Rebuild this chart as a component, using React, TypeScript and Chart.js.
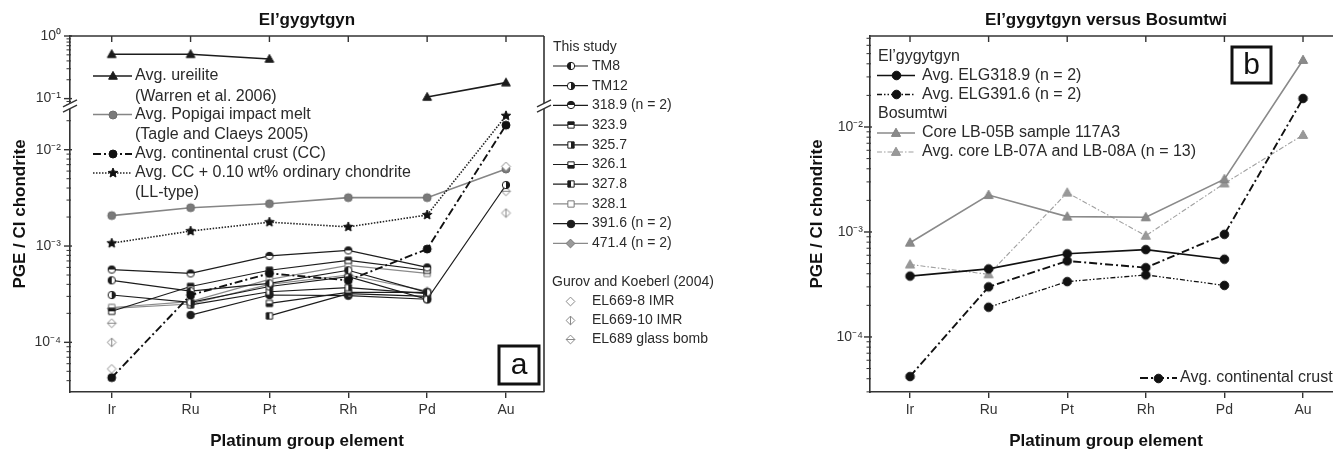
import React, { useEffect, useRef } from 'react';
import { Chart, registerables } from 'chart.js';

Chart.register(...registerables);

const FONT = '"Liberation Sans", Arial, Helvetica, sans-serif';
Chart.defaults.font.family = FONT;

// ---------------- data ----------------
const CATEGORIES = ['Ir', 'Ru', 'Pt', 'Rh', 'Pd', 'Au'];

// Panel a (El'gygytgyn)
const ureilite = [0.51, 0.51, 0.43, null, 0.106, 0.18];
const popigai = [2.07e-3, 2.5e-3, 2.75e-3, 3.18e-3, 3.18e-3, 6.3e-3];
const contCrustA = [4.3e-5, 3.1e-4, 5.2e-4, 4.4e-4, 9.3e-4, 1.8e-2];
const ccPlusLL = [1.07e-3, 1.43e-3, 1.77e-3, 1.58e-3, 2.1e-3, 2.25e-2];
const tm8 = [4.4e-4, 3.4e-4, 4.1e-4, 5.6e-4, 3.3e-4, null];
const tm12 = [3.1e-4, 2.6e-4, 3.8e-4, 4.8e-4, 2.8e-4, 4.3e-3];
const s3189 = [5.7e-4, 5.2e-4, 7.9e-4, 9.0e-4, 6.0e-4, null];
const s3239 = [2.1e-4, 3.8e-4, 5.6e-4, 7.1e-4, 5.6e-4, null];
const s3257 = [null, 2.45e-4, 3.35e-4, 3.7e-4, 3.2e-4, null];
const s3261 = [null, null, 2.54e-4, 3.3e-4, 3.3e-4, null];
const s3278 = [null, null, 1.88e-4, 3.2e-4, 3.0e-4, null];
const s3281 = [2.3e-4, 2.65e-4, 4.5e-4, 6.3e-4, 5.2e-4, null];
const s3916 = [null, 1.92e-4, 3.1e-4, 3.05e-4, 2.8e-4, null];
const s4714 = [2.25e-4, 2.5e-4, 4.0e-4, 5.0e-4, 3.4e-4, null];
const el6698 = [5.3e-5, null, null, null, null, 6.7e-3];
const el66910 = [1.0e-4, null, null, null, null, 2.2e-3];
const el689 = [1.58e-4, null, null, null, null, 3.7e-3];

// Panel b (El'gygytgyn versus Bosumtwi)
const elg3189 = [3.8e-4, 4.45e-4, 6.2e-4, 6.8e-4, 5.5e-4, null];
const elg3916 = [null, 1.92e-4, 3.37e-4, 3.9e-4, 3.1e-4, null];
const lb05b = [7.9e-4, 2.25e-3, 1.4e-3, 1.38e-3, 3.18e-3, 4.35e-2];
const lb0708 = [4.9e-4, 3.95e-4, 2.37e-3, 9.2e-4, 2.9e-3, 8.4e-3];
const contCrustB = [4.2e-5, 3.0e-4, 5.3e-4, 4.57e-4, 9.5e-4, 1.87e-2];

// axis ranges
const A_HIGH = [0.0762, 1];
const A_LOW = [3.05e-5, 0.02844];
const B_Y = [2.99e-5, 0.0736];
const A_X = [-0.529, 5.482];
const B_X = [-0.509, 5.496];

// ---------------- helpers ----------------
const AXIS = '#333';
const TXT = '#2a2a2a';

const SUP: Record<string, string> = { '-': '⁻', '0': '⁰', '1': '¹', '2': '²', '3': '³', '4': '⁴', '5': '⁵' };
const sup = (n: number) => String(n).split('').map((c) => SUP[c] || c).join('');

function logTicks(min: number, max: number) {
  const out: { value: number; major: boolean }[] = [];
  for (let e = Math.floor(Math.log10(min)); e <= Math.ceil(Math.log10(max)); e++) {
    for (let k = 1; k <= 9; k++) {
      const v = Number((k * Math.pow(10, e)).toPrecision(6));
      if (v >= min * 0.9999 && v <= max * 1.0001) out.push({ value: v, major: k === 1 });
    }
  }
  return out;
}
function logLabel(value: number) {
  const e = Math.round(Math.log10(value));
  return Math.abs(value - Math.pow(10, e)) / value < 1e-6 ? '10' + sup(e) : '';
}

type Shape = 'circle' | 'square' | 'triangle' | 'diamond' | 'star';
type Mode = 'full' | 'none' | 'left' | 'right' | 'top' | 'bottom' | 'vline' | 'hline';

function shapePath(ctx: CanvasRenderingContext2D, shape: Shape, c: number, r: number) {
  ctx.beginPath();
  if (shape === 'circle') ctx.arc(c, c, r, 0, Math.PI * 2);
  else if (shape === 'square') ctx.rect(c - r * 0.85, c - r * 0.85, r * 1.7, r * 1.7);
  else if (shape === 'triangle') {
    ctx.moveTo(c, c - r);
    ctx.lineTo(c + r * 0.95, c + r * 0.7);
    ctx.lineTo(c - r * 0.95, c + r * 0.7);
    ctx.closePath();
  } else if (shape === 'diamond') {
    ctx.moveTo(c, c - r);
    ctx.lineTo(c + r, c);
    ctx.lineTo(c, c + r);
    ctx.lineTo(c - r, c);
    ctx.closePath();
  } else {
    for (let i = 0; i < 10; i++) {
      const a = -Math.PI / 2 + (i * Math.PI) / 5;
      const rr = i % 2 ? r * 0.45 : r;
      const px = c + rr * Math.cos(a);
      const py = c + rr * Math.sin(a);
      if (i === 0) ctx.moveTo(px, py);
      else ctx.lineTo(px, py);
    }
    ctx.closePath();
  }
}

function makeMarker(shape: Shape, mode: Mode, fill: string, stroke: string, r: number) {
  const s = Math.ceil(2 * r + 4);
  const cv = document.createElement('canvas');
  cv.width = s;
  cv.height = s;
  const ctx = cv.getContext('2d')!;
  const c = s / 2;
  shapePath(ctx, shape, c, r);
  ctx.fillStyle = mode === 'full' ? fill : '#fff';
  ctx.fill();
  if (mode === 'left' || mode === 'right' || mode === 'top' || mode === 'bottom') {
    ctx.save();
    ctx.beginPath();
    if (mode === 'left') ctx.rect(0, 0, c, s);
    if (mode === 'right') ctx.rect(c, 0, s - c, s);
    if (mode === 'top') ctx.rect(0, 0, s, c);
    if (mode === 'bottom') ctx.rect(0, c, s, s - c);
    ctx.clip();
    shapePath(ctx, shape, c, r);
    ctx.fillStyle = fill;
    ctx.fill();
    ctx.restore();
  }
  ctx.strokeStyle = stroke;
  ctx.lineWidth = 1;
  if (mode === 'vline' || mode === 'hline') {
    ctx.beginPath();
    if (mode === 'vline') {
      ctx.moveTo(c, c - r);
      ctx.lineTo(c, c + r);
    } else {
      ctx.moveTo(c - r, c);
      ctx.lineTo(c + r, c);
    }
    ctx.stroke();
  }
  shapePath(ctx, shape, c, r);
  ctx.stroke();
  return cv;
}

type Sty = { color: string; width: number; dash: number[]; marker: HTMLCanvasElement; line: boolean };

function ds(label: string, values: (number | null)[], st: Sty, yAxisID: string) {
  return {
    label,
    yAxisID,
    xAxisID: 'x',
    data: values.map((v, i) => ({ x: i, y: v })),
    borderColor: st.color,
    backgroundColor: st.color,
    borderWidth: st.width,
    borderDash: st.dash,
    showLine: st.line,
    pointStyle: st.marker,
    pointRadius: 4,
    pointHoverRadius: 4,
    spanGaps: false,
    tension: 0,
    fill: false,
  };
}

function line(ctx: CanvasRenderingContext2D, x1: number, y1: number, x2: number, y2: number) {
  ctx.beginPath();
  ctx.moveTo(x1, y1);
  ctx.lineTo(x2, y2);
  ctx.stroke();
}

function text(ctx: CanvasRenderingContext2D, s: string, x: number, y: number, font: string, align: CanvasTextAlign = 'left', color = TXT) {
  ctx.font = font;
  ctx.fillStyle = color;
  ctx.textAlign = align;
  ctx.textBaseline = 'middle';
  ctx.fillText(s, x, y);
}

function legendSymbol(ctx: CanvasRenderingContext2D, st: Sty, x1: number, x2: number, y: number) {
  if (st.line) {
    ctx.save();
    ctx.strokeStyle = st.color;
    ctx.lineWidth = st.width;
    ctx.setLineDash(st.dash);
    line(ctx, x1, y, x2, y);
    ctx.restore();
  }
  const m = st.marker;
  const xc = (x1 + x2) / 2;
  ctx.drawImage(m, Math.round(xc - m.width / 2), Math.round(y - m.height / 2));
}

function drawYTicks(ctx: CanvasRenderingContext2D, scale: any, left: number) {
  ctx.save();
  ctx.strokeStyle = AXIS;
  for (const t of scale.ticks) {
    const py = scale.getPixelForValue(t.value);
    const major = logLabel(t.value) !== '';
    ctx.lineWidth = major ? 1.4 : 1;
    line(ctx, left - (major ? 6 : 3.5), py, left + (major ? 2 : 1), py);
  }
  ctx.restore();
}

function drawBreak(ctx: CanvasRenderingContext2D, cx: number, cy: number) {
  const d = 2.6;
  ctx.save();
  ctx.fillStyle = '#fff';
  ctx.beginPath();
  ctx.moveTo(cx - 7, cy + 3.5 - d);
  ctx.lineTo(cx + 7, cy - 3.5 - d);
  ctx.lineTo(cx + 7, cy - 3.5 + d);
  ctx.lineTo(cx - 7, cy + 3.5 + d);
  ctx.closePath();
  ctx.fill();
  ctx.strokeStyle = AXIS;
  ctx.lineWidth = 1.3;
  line(ctx, cx - 7, cy + 3.5 - d, cx + 7, cy - 3.5 - d);
  line(ctx, cx - 7, cy + 3.5 + d, cx + 7, cy - 3.5 + d);
  ctx.restore();
}

function frameTop(ctx: CanvasRenderingContext2D, chart: any) {
  const { left, right, top } = chart.chartArea;
  const x = chart.scales.x;
  ctx.save();
  ctx.strokeStyle = AXIS;
  ctx.lineWidth = 1.6;
  line(ctx, left, top, right, top);
  ctx.lineWidth = 1.4;
  for (let i = 0; i < CATEGORIES.length; i++) {
    const px = x.getPixelForValue(i);
    line(ctx, px, top, px, top + 6);
  }
  ctx.restore();
}

function boxLabel(ctx: CanvasRenderingContext2D, s: string, x: number, y: number, w: number, h: number) {
  ctx.save();
  ctx.fillStyle = '#fff';
  ctx.fillRect(x, y, w, h);
  ctx.strokeStyle = '#111';
  ctx.lineWidth = 3;
  ctx.strokeRect(x, y, w, h);
  ctx.restore();
  text(ctx, s, x + w / 2, y + h / 2 + 1, '30px ' + FONT, 'center', '#111');
}

function axisTitles(ctx: CanvasRenderingContext2D, chart: any, title: string, yTitleX: number) {
  const { left, right, top, bottom } = chart.chartArea;
  const cx = (left + right) / 2;
  const bold = 'bold 17px ' + FONT;
  text(ctx, title, cx, 20, bold, 'center', '#111');
  text(ctx, 'Platinum group element', cx, 441, bold, 'center', '#111');
  ctx.save();
  ctx.translate(yTitleX, (top + bottom) / 2);
  ctx.rotate(-Math.PI / 2);
  text(ctx, 'PGE / CI chondrite', 0, 0, bold, 'center', '#111');
  ctx.restore();
}

function xScale(range: number[], height: number) {
  return {
    type: 'linear',
    min: range[0],
    max: range[1],
    afterBuildTicks: (s: any) => {
      s.ticks = CATEGORIES.map((_, i) => ({ value: i }));
    },
    afterFit: (s: any) => {
      s.height = height;
    },
    ticks: {
      callback: (v: any) => CATEGORIES[v] ?? '',
      autoSkip: false,
      maxRotation: 0,
      font: { size: 14 },
      color: '#333',
      padding: 4,
    },
    grid: { display: true, drawOnChartArea: false, drawTicks: true, tickLength: 6, color: AXIS, lineWidth: 1.4 },
    border: { color: AXIS, width: 1.6 },
  };
}

function yScale(range: number[], width: number, stack?: string, weight?: number, tl = 6, pad = 3) {
  const o: any = {
    type: 'logarithmic',
    position: 'left',
    min: range[0],
    max: range[1],
    afterBuildTicks: (s: any) => {
      s.ticks = logTicks(range[0], range[1]);
    },
    afterFit: (s: any) => {
      s.width = width;
    },
    ticks: { callback: (v: any) => logLabel(Number(v)), autoSkip: false, font: { size: 14 }, color: '#333', padding: pad },
    grid: { display: false, drawTicks: true, tickLength: tl },
    border: { color: AXIS, width: 1.6 },
  };
  if (stack) {
    o.stack = stack;
    o.stackWeight = weight;
  }
  return o;
}

// ---------------- panel a ----------------
const A_W = 860;
function configA() {
  const blk = '#1c1c1c';
  const gry = '#858585';
  const S: Record<string, Sty> = {
    ureilite: { color: blk, width: 1.6, dash: [], marker: makeMarker('triangle', 'full', blk, blk, 4.6), line: true },
    popigai: { color: gry, width: 1.6, dash: [], marker: makeMarker('circle', 'full', '#7a7a7a', '#6e6e6e', 4), line: true },
    cc: { color: '#111', width: 1.9, dash: [8, 3, 2, 3], marker: makeMarker('circle', 'full', '#111', '#111', 4), line: true },
    ll: { color: '#222', width: 1.6, dash: [1.5, 1.5], marker: makeMarker('star', 'full', '#111', '#111', 5), line: true },
    tm8: { color: blk, width: 1.2, dash: [], marker: makeMarker('circle', 'left', blk, blk, 3.7), line: true },
    tm12: { color: blk, width: 1.2, dash: [], marker: makeMarker('circle', 'right', blk, blk, 3.7), line: true },
    s3189: { color: blk, width: 1.2, dash: [], marker: makeMarker('circle', 'top', blk, blk, 3.7), line: true },
    s3239: { color: blk, width: 1.2, dash: [], marker: makeMarker('square', 'top', blk, blk, 3.7), line: true },
    s3257: { color: blk, width: 1.2, dash: [], marker: makeMarker('square', 'right', blk, blk, 3.7), line: true },
    s3261: { color: blk, width: 1.2, dash: [], marker: makeMarker('square', 'bottom', blk, blk, 3.7), line: true },
    s3278: { color: blk, width: 1.2, dash: [], marker: makeMarker('square', 'left', blk, blk, 3.7), line: true },
    s3281: { color: '#8a8a8a', width: 1.2, dash: [], marker: makeMarker('square', 'none', '#fff', '#7a7a7a', 3.7), line: true },
    s3916: { color: blk, width: 1.2, dash: [], marker: makeMarker('circle', 'full', blk, blk, 3.8), line: true },
    s4714: { color: '#8a8a8a', width: 1.2, dash: [], marker: makeMarker('diamond', 'full', '#9a9a9a', '#7a7a7a', 4.4), line: true },
    el6698: { color: '#888', width: 1, dash: [], marker: makeMarker('diamond', 'none', '#fff', '#8a8a8a', 4.4), line: false },
    el66910: { color: '#888', width: 1, dash: [], marker: makeMarker('diamond', 'vline', '#fff', '#8a8a8a', 4.4), line: false },
    el689: { color: '#888', width: 1, dash: [], marker: makeMarker('diamond', 'hline', '#fff', '#8a8a8a', 4.4), line: false },
  };

  const datasets = [
    ds('Avg. ureilite', ureilite, S.ureilite, 'yHigh'),
    ds('Avg. continental crust (CC)', contCrustA, S.cc, 'yLow'),
    ds('Avg. CC + 0.10 wt% ordinary chondrite', ccPlusLL, S.ll, 'yLow'),
    ds('TM8', tm8, S.tm8, 'yLow'),
    ds('TM12', tm12, S.tm12, 'yLow'),
    ds('318.9 (n = 2)', s3189, S.s3189, 'yLow'),
    ds('323.9', s3239, S.s3239, 'yLow'),
    ds('325.7', s3257, S.s3257, 'yLow'),
    ds('326.1', s3261, S.s3261, 'yLow'),
    ds('327.8', s3278, S.s3278, 'yLow'),
    ds('391.6 (n = 2)', s3916, S.s3916, 'yLow'),
    ds('EL669-8 IMR', el6698, S.el6698, 'yLow'),
    ds('EL669-10 IMR', el66910, S.el66910, 'yLow'),
    ds('EL689 glass bomb', el689, S.el689, 'yLow'),
    ds('328.1', s3281, S.s3281, 'yLow'),
    ds('471.4 (n = 2)', s4714, S.s4714, 'yLow'),
    ds('Avg. Popigai impact melt', popigai, S.popigai, 'yLow'),
  ];

  const plugin = {
    id: 'panelA',
    afterDraw(chart: any) {
      const ctx: CanvasRenderingContext2D = chart.ctx;
      const { left, right, top, bottom } = chart.chartArea;
      frameTop(ctx, chart);
      ctx.save();
      ctx.strokeStyle = AXIS;
      ctx.lineWidth = 1.6;
      line(ctx, right, top, right, bottom);
      ctx.restore();
      drawYTicks(ctx, chart.scales.yHigh, left);
      drawYTicks(ctx, chart.scales.yLow, left);
      const by = chart.scales.yHigh.bottom;
      drawBreak(ctx, left, by);
      drawBreak(ctx, right, by);

      // inner legend
      const f16 = '16px ' + FONT;
      const lx1 = 93, lx2 = 132, tx = 135;
      legendSymbol(ctx, S.ureilite, lx1, lx2, 76);
      text(ctx, 'Avg. ureilite', tx, 76, f16);
      text(ctx, '(Warren et al. 2006)', tx, 96.5, f16);
      legendSymbol(ctx, S.popigai, lx1, lx2, 114.5);
      text(ctx, 'Avg. Popigai impact melt', tx, 114.5, f16);
      text(ctx, '(Tagle and Claeys 2005)', tx, 134.5, f16);
      legendSymbol(ctx, S.cc, lx1, lx2, 154);
      text(ctx, 'Avg. continental crust (CC)', tx, 154, f16);
      legendSymbol(ctx, S.ll, lx1, lx2, 173);
      text(ctx, 'Avg. CC + 0.10 wt% ordinary chondrite', tx, 173, f16);
      text(ctx, '(LL-type)', tx, 193, f16);

      // side legend
      const f14 = '14px ' + FONT;
      text(ctx, 'This study', 553, 47, f14);
      const rows: [string, Sty][] = [
        ['TM8', S.tm8],
        ['TM12', S.tm12],
        ['318.9 (n = 2)', S.s3189],
        ['323.9', S.s3239],
        ['325.7', S.s3257],
        ['326.1', S.s3261],
        ['327.8', S.s3278],
        ['328.1', S.s3281],
        ['391.6 (n = 2)', S.s3916],
        ['471.4 (n = 2)', S.s4714],
      ];
      rows.forEach(([lab, st], i) => {
        const y = 66 + i * 19.7;
        legendSymbol(ctx, st, 553, 588, y);
        text(ctx, lab, 592, y, f14);
      });
      text(ctx, 'Gurov and Koeberl (2004)', 552, 282, f14);
      const g: [string, Sty][] = [
        ['EL669-8 IMR', S.el6698],
        ['EL669-10 IMR', S.el66910],
        ['EL689 glass bomb', S.el689],
      ];
      g.forEach(([lab, st], i) => {
        const y = 301 + i * 19.2;
        legendSymbol(ctx, st, 553, 588, y);
        text(ctx, lab, 592, y, f14);
      });

      boxLabel(ctx, 'a', 499, 346, 40, 38);
      axisTitles(ctx, chart, 'El’gygytgyn', 20);
    },
  };

  return {
    type: 'line',
    data: { datasets },
    options: {
      animation: false,
      responsive: false,
      events: [],
      layout: { padding: { left: 0, top: 36, right: A_W - 544, bottom: 0 } },
      plugins: { legend: { display: false }, title: { display: false }, tooltip: { enabled: false } },
      scales: {
        x: xScale(A_X, 58),
        yLow: yScale(A_LOW, 70, 'a', 286),
        yHigh: yScale(A_HIGH, 70, 'a', 70),
      },
    },
    plugins: [plugin],
  };
}

// ---------------- panel b ----------------
const B_OFF = 665;
function configB() {
  const blk = '#111';
  const S: Record<string, Sty> = {
    elg3189: { color: blk, width: 1.7, dash: [], marker: makeMarker('circle', 'full', blk, blk, 4.3), line: true },
    elg3916: { color: blk, width: 1.3, dash: [5, 2, 1.5, 2, 1.5, 2], marker: makeMarker('circle', 'full', blk, blk, 4.3), line: true },
    lb05b: { color: '#8a8a8a', width: 1.6, dash: [], marker: makeMarker('triangle', 'full', '#8a8a8a', '#808080', 4.8), line: true },
    lb0708: { color: '#a0a0a0', width: 1.1, dash: [5, 2, 1.5, 2], marker: makeMarker('triangle', 'full', '#999', '#909090', 4.8), line: true },
    cc: { color: blk, width: 1.9, dash: [8, 3, 2, 3], marker: makeMarker('circle', 'full', blk, blk, 4.3), line: true },
  };
  const datasets = [
    ds('Avg. ELG318.9 (n = 2)', elg3189, S.elg3189, 'y'),
    ds('Avg. ELG391.6 (n = 2)', elg3916, S.elg3916, 'y'),
    ds('Avg. continental crust', contCrustB, S.cc, 'y'),
    ds('Core LB-05B sample 117A3', lb05b, S.lb05b, 'y'),
    ds('Avg. core LB-07A and LB-08A (n = 13)', lb0708, S.lb0708, 'y'),
  ];
  const plugin = {
    id: 'panelB',
    afterDraw(chart: any) {
      const ctx: CanvasRenderingContext2D = chart.ctx;
      const { left } = chart.chartArea;
      frameTop(ctx, chart);
      drawYTicks(ctx, chart.scales.y, left);
      const f16 = '16px ' + FONT;
      const o = B_OFF;
      const x1 = 877 - o, x2 = 915 - o, tx = 922 - o;
      text(ctx, 'El’gygytgyn', 878 - o, 57, f16);
      legendSymbol(ctx, S.elg3189, x1, x2, 75.5);
      text(ctx, 'Avg. ELG318.9 (n = 2)', tx, 75.5, f16);
      legendSymbol(ctx, S.elg3916, x1, x2, 94.5);
      text(ctx, 'Avg. ELG391.6 (n = 2)', tx, 94.5, f16);
      text(ctx, 'Bosumtwi', 878 - o, 113.5, f16);
      legendSymbol(ctx, S.lb05b, x1, x2, 133);
      text(ctx, 'Core LB-05B sample 117A3', tx, 133, f16);
      legendSymbol(ctx, S.lb0708, x1, x2, 152);
      text(ctx, 'Avg. core LB-07A and LB-08A (n = 13)', tx, 152, f16);

      legendSymbol(ctx, S.cc, 1140 - o, 1177 - o, 378);
      text(ctx, 'Avg. continental crust', 1180 - o, 378, f16);

      boxLabel(ctx, 'b', 1232 - o, 47, 39, 36);
      axisTitles(ctx, chart, 'El’gygytgyn versus Bosumtwi', 817 - o);
    },
  };
  return {
    type: 'line',
    data: { datasets },
    options: {
      animation: false,
      responsive: false,
      events: [],
      layout: { padding: { left: 0, top: 36, right: 23, bottom: 0 } },
      plugins: { legend: { display: false }, title: { display: false }, tooltip: { enabled: false } },
      scales: {
        x: xScale(B_X, 58),
        y: yScale(B_Y, 870 - B_OFF, undefined, undefined, 5, 2),
      },
    },
    plugins: [plugin],
  };
}

function ChartCanvas({ make, left, width }: { make: () => any; left: number; width: number }) {
  const ref = useRef<HTMLCanvasElement>(null);
  useEffect(() => {
    const chart = new Chart(ref.current as HTMLCanvasElement, make());
    return () => chart.destroy();
  }, [make]);
  return (
    <canvas
      ref={ref}
      width={width}
      height={450}
      style={{ position: 'absolute', left, top: 0, width, height: 450, display: 'block' }}
    />
  );
}

export default function App() {
  return (
    <div
      style={{
        position: 'fixed',
        left: 0,
        top: 0,
        width: 1333,
        height: 450,
        overflow: 'hidden',
        background: '#fff',
      }}
    >
      <ChartCanvas make={configA} left={0} width={A_W} />
      <ChartCanvas make={configB} left={B_OFF} width={700} />
    </div>
  );
}
